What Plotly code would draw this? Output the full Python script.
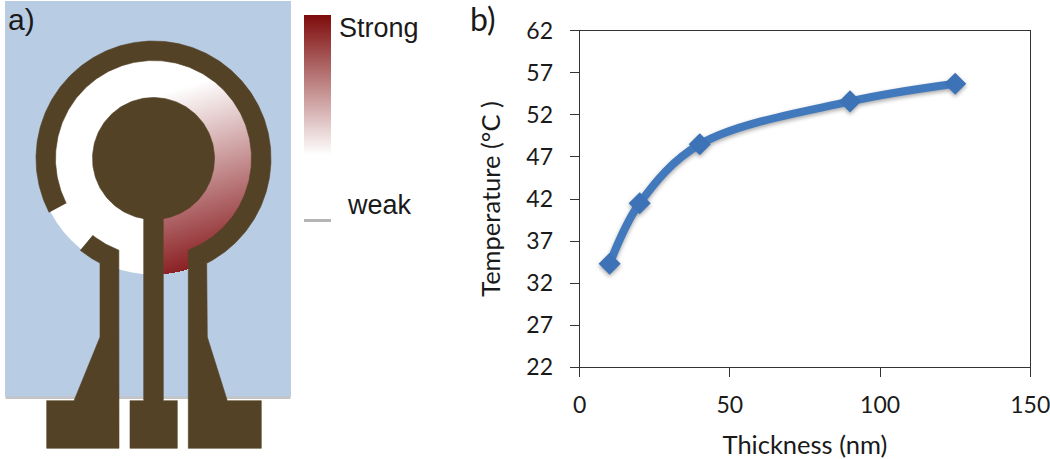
import numpy as np
import plotly.graph_objects as go

# --- chart data (panel b) ---
thickness_nm = [10, 20, 40, 90, 125]
temperature_c = [34.3, 41.5, 48.5, 53.6, 55.7]
x_ticks = [0, 50, 100, 150]
y_ticks = [22, 27, 32, 37, 42, 47, 52, 57, 62]

BROWN = "#544227"
BLUE = "#b8cce4"
LINE = "#4279bd"
MARK = "#3d72b6"
DARK = "#7e0b0b"
CX, CY = 153.5, 158.5
R_OUT, R_GAP, R_IN, R_BASE = 117.5, 98.0, 61.0, 116.0


def arc(r, a0, a1, n=120):
    t = np.radians(np.linspace(a0, a1, n))
    return (CX + r * np.cos(t)).tolist(), (CY + r * np.sin(t)).tolist()


def poly(xs, ys, color=BROWN):
    return go.Scatter(x=xs, y=ys, mode="lines", fill="toself", fillcolor=color,
                      line=dict(width=0.6, color=color), xaxis="x2", yaxis="y2",
                      hoverinfo="skip", showlegend=False)


fig = go.Figure()

# Panel a: gradient of the ring sector (right-hand part of the gap)
gx = np.arange(163.3, 256, 0.5)
gy = np.arange(60, 276, 0.5)
XX, YY = np.meshgrid(gx, gy)
t = ((XX - 197) * 0.3 + (YY - 83) * 0.95) / 175
t = np.clip(t, 0, 1)
t[(XX - CX) ** 2 + (YY - CY) ** 2 > R_BASE ** 2] = np.nan
fade = [[0, "#ffffff"], [1, "#8a1f22"]]
fig.add_trace(go.Heatmap(x=gx, y=gy, z=t, zmin=0, zmax=1, colorscale=fade, showscale=False,
                         xaxis="x2", yaxis="y2", hoverinfo="skip"))

# Panel a: strength scale bar (cell edges given explicitly so it spans its exact width)
by = np.arange(15, 220, 1.0)
bmid = (by[:-1] + by[1:]) / 2
bz = np.clip((155 - bmid) / 140, 0, 1)
fig.add_trace(go.Heatmap(x=[304, 331], y=by, z=bz.reshape(-1, 1), zmin=0, zmax=1,
                         colorscale=[[0, "#ffffff"], [1, DARK]], showscale=False,
                         xaxis="x2", yaxis="y2", hoverinfo="skip"))

# Panel a: brown electrode pieces
ox, oy = arc(R_OUT, 152.7, 423.1, 300)
ix, iy = arc(R_GAP, 429.2, 152.8, 300)
fig.add_trace(poly(ox + ix, oy + iy))
ox, oy = arc(R_OUT, 128.6, 117.1, 30)
ix, iy = arc(R_GAP, 110.7, 128.4, 30)
fig.add_trace(poly(ox + [100, 100, 74, 46.7, 46.7, 119] + ix,
                   oy + [263, 337, 400.7, 400.7, 448.3, 448.3] + iy))
ox, oy = arc(R_IN, 0, 360, 200)
fig.add_trace(poly(ox, oy))
fig.add_trace(poly([143.7, 143.7, 130, 130, 177.3, 177.3, 163.3, 163.3],
                   [200, 400.7, 400.7, 448.3, 448.3, 400.7, 400.7, 200]))
fig.add_trace(poly([188.3, 188.3, 261.3, 261.3, 227.3, 207.3, 206.7],
                   [250, 448.3, 448.3, 400.7, 400.7, 337, 263.3]))

# Panel b: measured curve
fig.add_trace(go.Scatter(x=thickness_nm, y=temperature_c, mode="lines+markers",
                         line=dict(shape="spline", smoothing=1.0, width=8, color=LINE),
                         marker=dict(symbol="diamond", size=17, color=MARK),
                         xaxis="x", yaxis="y", showlegend=False))

shapes = [
    dict(type="rect", xref="x2", yref="y2", x0=5.5, x1=290.5, y0=3, y1=399, layer="below",
         fillcolor="#c4c4c4", line_width=0),
    dict(type="rect", xref="x2", yref="y2", x0=5, x1=291, y0=1, y1=396.5, layer="below",
         fillcolor=BLUE, line_width=0),
    dict(type="circle", xref="x2", yref="y2", x0=CX - R_BASE, x1=CX + R_BASE,
         y0=CY - R_BASE, y1=CY + R_BASE, layer="below", fillcolor="#ffffff", line_width=0),
    dict(type="rect", xref="x2", yref="y2", x0=304, x1=331, y0=218, y1=222, layer="below",
         fillcolor="#b5b5b5", line_width=0),
]


def label(text, x, y, size, family="Liberation Sans", color="#1a1a1a"):
    return dict(text=text, x=x, y=y, xref="x2", yref="y2", showarrow=False, xanchor="left",
                yanchor="middle", xshift=0, yshift=0, borderpad=0, align="left",
                font=dict(family=family, size=size, color=color))


annotations = [
    label("a)", 7, 19, 30),
    label("Strong", 338, 28, 27),
    label("weak", 346, 205, 27),
    label("b)", 469, 18, 32, family="Lato"),
]

FONT = dict(family="Lato", size=23, color="#1a1a1a")
TITLE = dict(family="Lato", size=25.5, color="#1a1a1a")
fig.update_layout(
    width=1050, height=459, margin=dict(l=0, r=0, t=0, b=0), autosize=False,
    paper_bgcolor="white", plot_bgcolor="rgba(0,0,0,0)", showlegend=False,
    font=FONT, shapes=shapes, annotations=annotations,
    xaxis=dict(domain=[579.6 / 1050, 1030.3 / 1050], range=[0, 150], tickvals=x_ticks,
               ticks="outside", ticklen=9, tickwidth=1, tickcolor="#333333", showgrid=False,
               zeroline=False, showline=True, linecolor="#333333", linewidth=1, mirror=True,
               automargin=False, tickfont=FONT, ticklabeloverflow="allow", ticklabelstandoff=8,
               title=dict(text="Thickness (nm)", font=TITLE, standoff=20)),
    yaxis=dict(domain=[1 - 367.3 / 459, 1 - 30.7 / 459], range=[22, 62], tickvals=y_ticks,
               ticks="outside", ticklen=9, tickwidth=1, tickcolor="#333333", showgrid=False,
               zeroline=False, showline=True, linecolor="#333333", linewidth=1, mirror=True,
               automargin=False, tickfont=FONT, ticklabeloverflow="allow", ticklabelstandoff=12,
               title=dict(text="Temperature (°C )", font=TITLE, standoff=18)),
    xaxis2=dict(domain=[0, 1], range=[0, 1050], visible=False, anchor="y2", fixedrange=True,
                automargin=False),
    yaxis2=dict(domain=[0, 1], range=[459, 0], visible=False, anchor="x2", fixedrange=True,
                automargin=False),
)

fig.write_html("out.html", config=dict(displayModeBar=False),
               post_script="document.body.style.margin='0';"
                           "document.documentElement.style.overflow='hidden';"
                           "document.querySelectorAll('.subplot.xy .scatterlayer .trace')"
                           ".forEach(function(e){e.style.filter='drop-shadow(0 2px 2px rgba(0,0,0,.35))';});")
